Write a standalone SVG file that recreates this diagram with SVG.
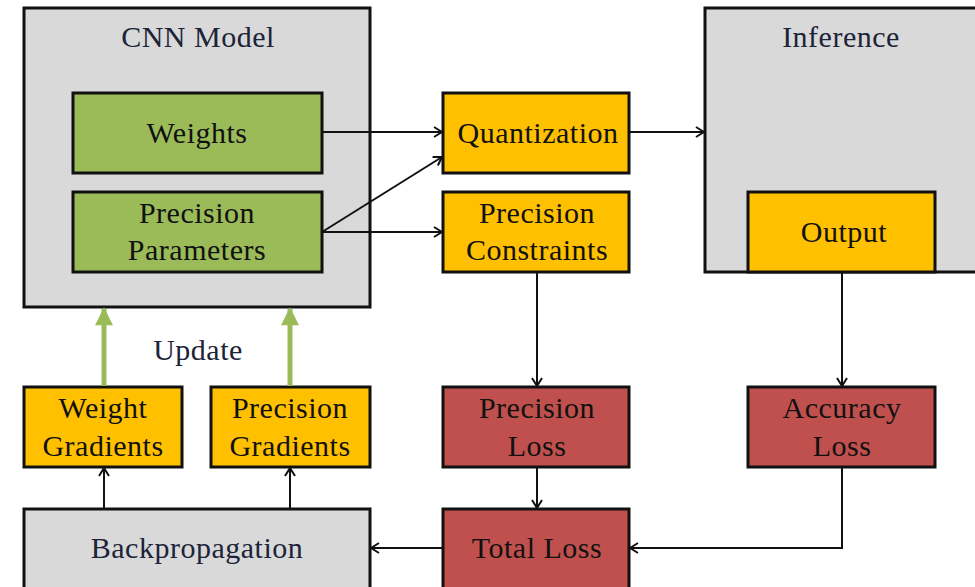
<svg xmlns="http://www.w3.org/2000/svg" width="975" height="587" viewBox="0 0 975 587">
<defs>
<style>
.box{stroke:#111;stroke-width:3}
.gray{fill:#d9d9d9}
.green{fill:#9bbb59}
.yel{fill:#ffc000}
.red{fill:#c0504d}
text{font-family:"Liberation Serif","Times New Roman",serif;font-size:30px;letter-spacing:0.5px;text-anchor:middle;fill:#111}
.title{fill:#1c2438}
.conn{stroke:#111;stroke-width:2;fill:none}
.upd{stroke:#9bbb59;stroke-width:5;fill:none}
</style>
<marker id="open" viewBox="0 0 12 12" refX="11" refY="6" markerWidth="12" markerHeight="12" markerUnits="userSpaceOnUse" orient="auto">
<path d="M3,1 L11,6 L3,11" fill="none" stroke="#111" stroke-width="2"/>
</marker>
<marker id="tri" viewBox="0 0 10 10" refX="9" refY="5" markerWidth="22" markerHeight="18" markerUnits="userSpaceOnUse" orient="auto">
<path d="M0,0 L10,5 L0,10 Z" fill="#9bbb59"/>
</marker>
</defs>

<g id="cnn-model">
<rect class="box gray" x="24" y="8" width="346" height="299"/>
<text class="title" x="198" y="47">CNN Model</text>
</g>
<g id="weights">
<rect class="box green" x="73" y="93" width="249" height="80"/>
<text x="197" y="143">Weights</text>
</g>
<g id="precision-parameters">
<rect class="box green" x="73" y="192" width="249" height="80"/>
<text x="197" y="223">Precision</text>
<text x="197" y="260">Parameters</text>
</g>
<g id="quantization">
<rect class="box yel" x="443" y="93" width="186" height="80"/>
<text x="538" y="143">Quantization</text>
</g>
<g id="precision-constraints">
<rect class="box yel" x="443" y="192" width="186" height="80"/>
<text x="537" y="223">Precision</text>
<text x="537" y="260">Constraints</text>
</g>
<g id="inference">
<rect class="box gray" x="705" y="8" width="280" height="264"/>
<text class="title" x="841" y="47">Inference</text>
</g>
<g id="output">
<rect class="box yel" x="748" y="192" width="187" height="80"/>
<text x="844" y="242">Output</text>
</g>
<g id="weight-gradients">
<rect class="box yel" x="24" y="387" width="158" height="80"/>
<text x="103" y="418">Weight</text>
<text x="103" y="456">Gradients</text>
</g>
<g id="precision-gradients">
<rect class="box yel" x="211" y="387" width="159" height="80"/>
<text x="290" y="418">Precision</text>
<text x="290" y="456">Gradients</text>
</g>
<g id="precision-loss">
<rect class="box red" x="443" y="387" width="186" height="80"/>
<text x="537" y="418">Precision</text>
<text x="537" y="456">Loss</text>
</g>
<g id="accuracy-loss">
<rect class="box red" x="748" y="387" width="187" height="80"/>
<text x="842" y="418">Accuracy</text>
<text x="842" y="456">Loss</text>
</g>
<g id="backpropagation">
<rect class="box gray" x="24" y="509" width="346" height="90"/>
<text class="title" x="197" y="558">Backpropagation</text>
</g>
<g id="total-loss">
<rect class="box red" x="443" y="509" width="186" height="90"/>
<text x="537" y="558">Total Loss</text>
</g>

<g id="connectors">
<path class="conn" d="M322,132 L442,132" marker-end="url(#open)"/>
<path class="conn" d="M322,232 L442,157" marker-end="url(#open)"/>
<path class="conn" d="M322,232 L442,232" marker-end="url(#open)"/>
<path class="conn" d="M629,132 L704,132" marker-end="url(#open)"/>
<path class="conn" d="M537,273 L537,386" marker-end="url(#open)"/>
<path class="conn" d="M842,273 L842,386" marker-end="url(#open)"/>
<path class="conn" d="M537,468 L537,508" marker-end="url(#open)"/>
<path class="conn" d="M842,468 L842,548 L630,548" marker-end="url(#open)"/>
<path class="conn" d="M443,548 L371,548" marker-end="url(#open)"/>
<path class="conn" d="M104,509 L104,468" marker-end="url(#open)"/>
<path class="conn" d="M290,509 L290,468" marker-end="url(#open)"/>
<path class="upd" d="M104,386 L104,309" marker-end="url(#tri)"/>
<path class="upd" d="M290,386 L290,309" marker-end="url(#tri)"/>
<text class="title" x="198" y="360">Update</text>
</g>
</svg>
